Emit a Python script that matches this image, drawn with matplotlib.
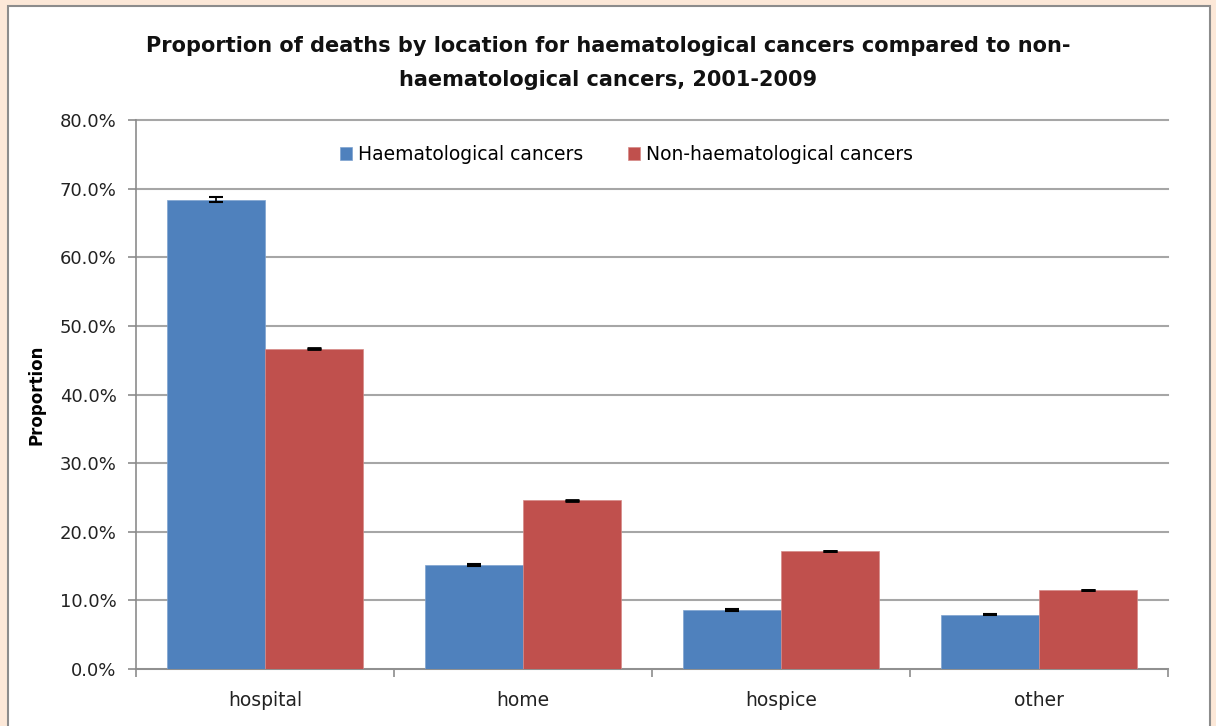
import matplotlib
matplotlib.use("Agg")
import matplotlib.pyplot as plt
from matplotlib.patches import Rectangle
import numpy as np

categories = ["hospital", "home", "hospice", "other"]
haem = [68.4, 15.1, 8.6, 7.9]
nonhaem = [46.7, 24.6, 17.2, 11.5]
haem_err = [0.4, 0.15, 0.1, 0.1]
nonhaem_err = [0.08, 0.05, 0.05, 0.05]
series_names = ["Haematological cancers", "Non-haematological cancers"]
yticks = [0, 10, 20, 30, 40, 50, 60, 70, 80]

W, H = 1216, 726
fig = plt.figure(figsize=(W/100, H/100), dpi=100)
fig.patch.set_facecolor("#FCE8D8")
fig.patches.append(Rectangle((8/W, -0.1), (1202)/W, 1.1 - 6/H, transform=fig.transFigure,
                             facecolor="white", edgecolor="#8C8C8C", linewidth=1.5, zorder=-5))

ax = fig.add_axes([136/W, 1-669/H, (1168-136)/W, (669-120)/H])
ax.set_facecolor("white")
x = np.arange(len(categories))
bw = 0.38
blue = "#4F81BD"
red = "#C0504D"
ax.bar(x - bw/2, haem, bw, color=blue, edgecolor="#7FA3D0", linewidth=0.5, label=series_names[0], zorder=3)
ax.bar(x + bw/2, nonhaem, bw, color=red, edgecolor="#D58A88", linewidth=0.5, label=series_names[1], zorder=3)
ax.errorbar(x - bw/2, haem, yerr=haem_err, fmt="none", ecolor="black", elinewidth=1.2, capsize=5, capthick=1.5, zorder=4)
ax.errorbar(x + bw/2, nonhaem, yerr=nonhaem_err, fmt="none", ecolor="black", elinewidth=1.2, capsize=5, capthick=2, zorder=4)

ax.set_xlim(-0.5, len(categories) - 0.5)
ax.set_ylim(0, 80)
ax.set_yticks(yticks)
ax.set_yticklabels([f"{v:.1f}%" for v in yticks], fontsize=13, color="#222222")
ax.yaxis.grid(True, color="#A6A6A6", linewidth=1.5, zorder=0)
for gl in ax.yaxis.get_gridlines():
    gl.set_clip_on(False)
ax.set_axisbelow(True)
for s in ["top", "right"]:
    ax.spines[s].set_visible(False)
for s in ["left", "bottom"]:
    ax.spines[s].set_color("#8C8C8C")
    ax.spines[s].set_linewidth(1.2)
ax.tick_params(axis="y", length=6, color="#8C8C8C", width=1.2, pad=8)
ax.set_xticks(x)
ax.set_xticklabels(categories, fontsize=13.5, color="#222222")
ax.set_xticks(np.arange(-0.5, len(categories)), minor=True)
ax.tick_params(axis="x", which="major", length=0, pad=16)
ax.tick_params(axis="x", which="minor", length=6, color="#8C8C8C", width=1.2)

ax.set_ylabel("Proportion", fontsize=12, fontweight="bold", labelpad=10)

leg = ax.legend(loc="upper center", bbox_to_anchor=(0.475, 0.985), ncol=2, frameon=False,
                fontsize=13.5, handlelength=0.65, handleheight=0.7, columnspacing=2.4, handletextpad=0.3)

fig.text(0.5, 1-63/H, "Proportion of deaths by location for haematological cancers compared to non-\nhaematological cancers, 2001-2009",
         ha="center", va="center", fontsize=15, fontweight="bold", linespacing=1.85, color="#111111")

fig.savefig("out.png", dpi=100)
